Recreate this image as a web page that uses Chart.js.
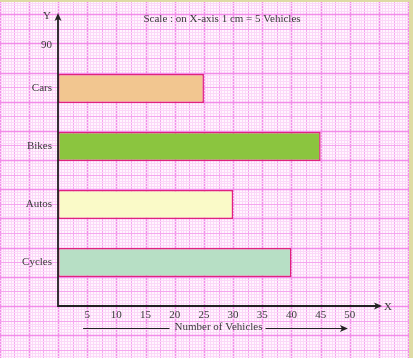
<!DOCTYPE html>
<html>
<head>
<meta charset="utf-8">
<script src="https://cdn.jsdelivr.net/npm/chart.js@4/dist/chart.umd.min.js"></script>
<style>
  html, body { margin: 0; padding: 0; background: #fff; }
  #wrap { width: 413px; height: 358px; }
</style>
</head>
<body>
<div id="wrap"><canvas id="chart" width="413" height="358"></canvas></div>
<script>
// data
const categories = ['Cars', 'Bikes', 'Autos', 'Cycles'];
const vehicles = [25, 45, 30, 40];
const barColors = ['#f2c690', '#8bc53f', '#fafac8', '#b7dfc5'];
const xTicks = [5, 10, 15, 20, 25, 30, 35, 40, 45, 50];
const yTopTick = 90;

const serif = "'Liberation Serif', 'Times New Roman', serif";
const textColor = '#3a3a3a';

// each category sits 20 units apart on a 0..90 vertical scale
const slot = i => 75 - 20 * i;

// graph paper behind everything
const paper = {
  id: 'paper',
  beforeDraw(chart) {
    const { ctx, width, height, scales } = chart;
    const x0 = scales.x.getPixelForValue(0);
    const cm = scales.x.getPixelForValue(5) - x0;
    const y0 = scales.y.getPixelForValue(0);
    const mm = cm / 10;
    ctx.save();
    ctx.fillStyle = '#fff6fe';
    ctx.fillRect(0, 0, width, height);
    const style = k => {
      if (k % 10 === 0) return ['#f28ce9', 1.6];
      if (k % 5 === 0) return ['#f5a6ef', 1.1];
      return ['#fbd8f8', 1];
    };
    for (let k = -Math.ceil(x0 / mm); x0 + k * mm <= width; k++) {
      const [c, w] = style(Math.abs(k));
      ctx.strokeStyle = c; ctx.lineWidth = w;
      const x = Math.round(x0 + k * mm) + 0.5;
      ctx.beginPath(); ctx.moveTo(x, 0); ctx.lineTo(x, height); ctx.stroke();
    }
    for (let k = -Math.ceil((height - y0) / mm); y0 - k * mm >= 0; k++) {
      const [c, w] = style(Math.abs(k));
      ctx.strokeStyle = c; ctx.lineWidth = w;
      const y = Math.round(y0 - k * mm) + 0.5;
      ctx.beginPath(); ctx.moveTo(0, y); ctx.lineTo(width, y); ctx.stroke();
    }
    // paper edges
    ctx.fillStyle = '#dedba4';
    ctx.fillRect(0, 0, width, 2);
    ctx.fillRect(width - 4, 0, 4, height);
    ctx.restore();
  }
};

function arrow(ctx, x, y, dir) {
  ctx.beginPath();
  if (dir === 'up') {
    ctx.moveTo(x, y); ctx.lineTo(x - 3.5, y + 8); ctx.lineTo(x, y + 6); ctx.lineTo(x + 3.5, y + 8);
  } else {
    ctx.moveTo(x, y); ctx.lineTo(x - 8, y - 3.5); ctx.lineTo(x - 6, y); ctx.lineTo(x - 8, y + 3.5);
  }
  ctx.closePath();
  ctx.fill();
}

// axes with arrows, labels and the scale note
const decor = {
  id: 'decor',
  afterDraw(chart) {
    const { ctx, scales } = chart;
    const ox = scales.x.getPixelForValue(0);
    const oy = scales.y.getPixelForValue(0);
    const xEnd = scales.x.getPixelForValue(55) + 1;
    ctx.save();
    ctx.strokeStyle = '#222';
    ctx.fillStyle = '#222';
    ctx.lineWidth = 1.8;
    ctx.beginPath();
    ctx.moveTo(ox, 15); ctx.lineTo(ox, oy); ctx.lineTo(xEnd, oy);
    ctx.stroke();
    arrow(ctx, ox, 13, 'up');
    arrow(ctx, xEnd + 2, oy, 'right');

    ctx.fillStyle = textColor;
    ctx.font = '11px ' + serif;
    ctx.textBaseline = 'middle';
    ctx.textAlign = 'center';
    ctx.fillText('Y', 47, 16);
    ctx.fillText('X', xEnd + 8, oy + 1);
    ctx.fillText('Scale : on X-axis 1 cm = 5 Vehicles', 222, 19);

    const cx = (scales.x.getPixelForValue(10) + scales.x.getPixelForValue(45)) / 2;
    ctx.fillText('Number of Vehicles', cx, 327);
    ctx.strokeStyle = '#222';
    ctx.lineWidth = 1;
    ctx.beginPath();
    ctx.moveTo(scales.x.getPixelForValue(4.3), 328.5); ctx.lineTo(cx - 49, 328.5);
    ctx.moveTo(cx + 47, 328.5); ctx.lineTo(scales.x.getPixelForValue(49.5), 328.5);
    ctx.stroke();
    ctx.fillStyle = '#222';
    arrow(ctx, scales.x.getPixelForValue(49.5) + 1, 328.5, 'right');
    ctx.restore();
  }
};

new Chart(document.getElementById('chart'), {
  type: 'bar',
  data: {
    datasets: [{
      data: categories.map((c, i) => ({ x: vehicles[i], y: slot(i) })),
      backgroundColor: barColors,
      borderColor: '#e0237d',
      borderWidth: 1.5,
      borderSkipped: false,
      barPercentage: 0.5,
      categoryPercentage: 1
    }]
  },
  options: {
    indexAxis: 'y',
    responsive: false,
    animation: false,
    layout: { padding: { top: 45, right: 34, bottom: 0, left: 0 } },
    plugins: { legend: { display: false }, tooltip: { enabled: false } },
    scales: {
      x: {
        type: 'linear',
        min: 0,
        max: 55,
        offset: false,
        grid: { display: false, tickLength: 0 },
        border: { display: false },
        afterBuildTicks: s => { s.ticks = xTicks.map(v => ({ value: v })); },
        afterFit: s => { s.height = 52; },
        ticks: {
          color: textColor,
          padding: 3,
          font: { family: serif, size: 11 }
        }
      },
      y: {
        type: 'linear',
        min: 0,
        max: 90,
        offset: false,
        grid: { display: false, tickLength: 0 },
        border: { display: false },
        afterBuildTicks: s => {
          s.ticks = categories.map((c, i) => ({ value: slot(i) })).concat([{ value: yTopTick }]);
        },
        afterFit: s => { s.width = 58; },
        ticks: {
          color: textColor,
          padding: 6,
          font: { family: serif, size: 11 },
          callback: v => v === yTopTick ? String(yTopTick) : categories[(75 - v) / 20]
        }
      }
    }
  },
  plugins: [paper, decor]
});
</script>
</body>
</html>
